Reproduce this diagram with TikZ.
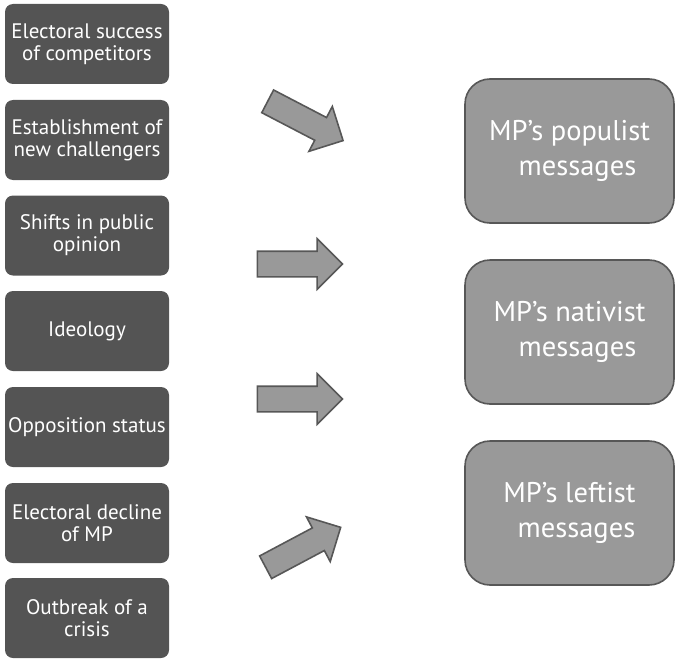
\documentclass[tikz,border=0pt]{standalone}
\usepackage{fontspec}
\setmainfont{PT Sans}
\usetikzlibrary{shapes.arrows}
\definecolor{darkbox}{HTML}{545454}
\definecolor{lightbox}{HTML}{999999}
\definecolor{edgegray}{HTML}{575757}
\tikzset{
  factor/.style={rectangle, rounded corners=8pt, fill=darkbox, draw=none,
    minimum width=164pt, minimum height=80pt, inner sep=0pt, align=center,
    text=white, font=\fontsize{21}{22}\selectfont},
  outcome/.style={rectangle, rounded corners=25pt, fill=lightbox, draw=edgegray, line width=1.6pt,
    minimum width=209pt, minimum height=144pt, inner sep=0pt, align=center,
    text=white, font=\fontsize{28.5}{35}\selectfont},
  bigarrow/.style={single arrow, fill=lightbox, draw=edgegray, line width=1.6pt,
    minimum height=85pt, minimum width=49pt, single arrow head extend=12.5pt,
    single arrow tip angle=90, inner sep=0pt}
}
\newcommand{\shaftstrut}{\rule{0pt}{24pt}}
\begin{document}
\begin{tikzpicture}[x=1pt,y=-1pt]
\useasboundingbox (0,0) rectangle (676,658);
\node[factor] (f1) at (87,44) {Electoral success\\of competitors};
\node[factor] (f2) at (87,140) {Establishment of\\new challengers};
\node[factor] (f3) at (87,235.5) {Shifts in public\\opinion};
\node[factor] (f4) at (87,331) {Ideology};
\node[factor] (f5) at (87,427) {Opposition status};
\node[factor] (f6) at (87,523) {Electoral decline\\of MP};
\node[factor] (f7) at (87,618) {Outbreak of a\\crisis};

\node[outcome] (o1) at (569.5,151) {MP’s populist\\\hspace*{16pt}messages};
\node[outcome] (o2) at (569.5,332) {MP’s nativist\\\hspace*{16pt}messages};
\node[outcome] (o3) at (569.5,513) {MP’s leftist\\\hspace*{14pt}messages};

\node[bigarrow, rotate=-27.5] (a1) at (299.7,118) {\shaftstrut};
\node[bigarrow] (a2) at (293.5,264) {\shaftstrut};
\node[bigarrow] (a3) at (293.5,399) {\shaftstrut};
\node[bigarrow, rotate=28] (a4) at (297.5,550.3) {\shaftstrut};
\end{tikzpicture}
\end{document}
